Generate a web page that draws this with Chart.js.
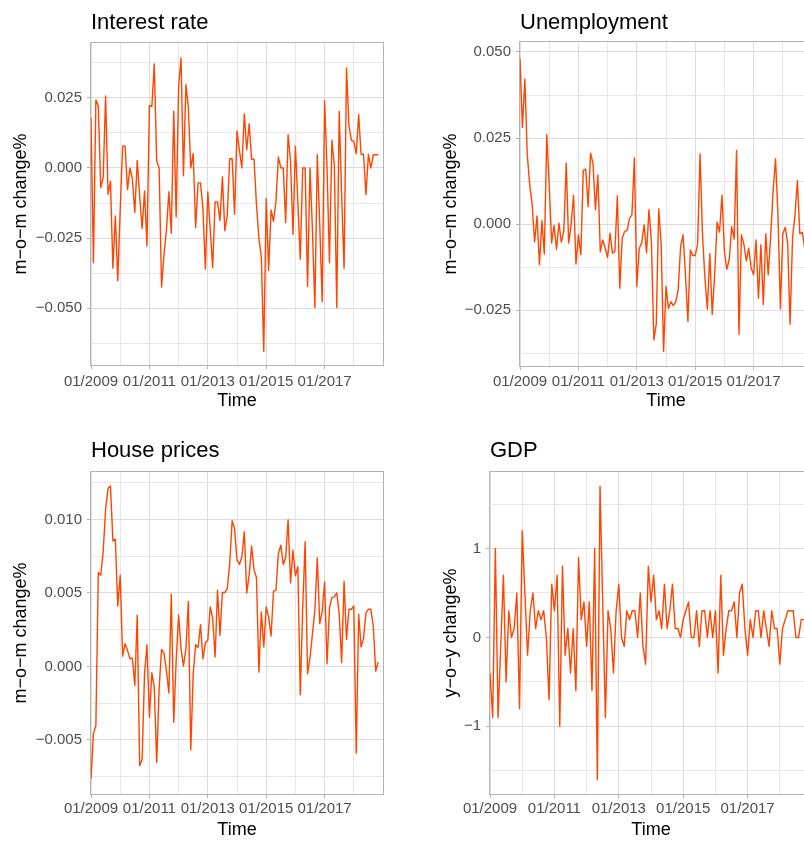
<!DOCTYPE html>
<html>
<head>
<meta charset="utf-8">
<title>Macro indicators 2009–2018</title>
<script src="https://cdn.jsdelivr.net/npm/chart.js@4.4.1/dist/chart.umd.min.js"></script>
<style>
  html, body { margin: 0; padding: 0; background: #ffffff; width: 804px; height: 844px; overflow: hidden; }
  canvas.panel { position: absolute; display: block; }
</style>
</head>
<body>
<canvas id="pInterest" class="panel" width="402" height="422" style="left:0px;top:0px;width:402px;height:422px"></canvas>
<canvas id="pUnemp" class="panel" width="420" height="422" style="left:402px;top:0px;width:420px;height:422px"></canvas>
<canvas id="pHouse" class="panel" width="402" height="422" style="left:0px;top:422px;width:402px;height:422px"></canvas>
<canvas id="pGdp" class="panel" width="420" height="422" style="left:402px;top:422px;width:420px;height:422px"></canvas>
<script>
// Monthly observations, index 0 = 01/2009
const xTickLabels = ['01/2009', '01/2011', '01/2013', '01/2015', '01/2017'];
const monthSpan = 120;

const interestRate = [
  0.018, -0.0338, 0.0243, 0.0222, -0.0070, -0.0035, 0.0257, -0.0094, -0.0047, -0.0358,
  -0.0171, -0.0402, -0.015, 0.0079, 0.0078, -0.0077, 0.0000, -0.0038, -0.0159, 0.0027,
  -0.0100, -0.0216, -0.0082, -0.0278, 0.0223, 0.0219, 0.0371, 0.0024, 0.0000, -0.0425,
  -0.031, -0.022, -0.0085, -0.0233, 0.0203, -0.0174, 0.0288, 0.0392, -0.0028, 0.0298,
  0.0217, 0.0000, 0.0051, -0.0212, -0.0053, -0.0053, -0.0145, -0.0361, -0.0085, -0.022,
  -0.0356, -0.0121, -0.0121, -0.0187, -0.0032, -0.0224, -0.0168, 0.0033, 0.0033, -0.0165,
  0.0132, 0.0063, 0.0000, 0.0193, 0.0065, 0.0158, 0.0031, 0.0031, -0.013, -0.025,
  -0.032, -0.0654, -0.0109, -0.0365, -0.015, -0.019, -0.0121, 0.0039, 0.0001, 0.0000,
  -0.0195, 0.0119, 0.0024, -0.0237, 0.0078, -0.012, -0.0326, 0.0000, 0.0000, -0.0423,
  0.0000, -0.022, -0.0498, 0.0047, -0.02, -0.0477, 0.0241, 0.0000, -0.0338, 0.0099,
  0.001, -0.0498, 0.0202, -0.01, -0.0358, 0.0357, 0.0152, 0.0099, 0.0095, 0.0051,
  0.0191, 0.0049, 0.0049, -0.0095, 0.0049, 0.0000, 0.0047, 0.0047, 0.0047
];

const unemployment = [
  0.048, 0.0281, 0.0421, 0.0201, 0.0114, 0.0056, -0.0052, 0.0024, -0.0118, 0.0010,
  -0.0087, 0.0260, 0.0114, -0.0055, -0.0004, -0.0073, 0.0003, -0.0052, -0.0021, 0.0177,
  -0.0055, -0.0002, 0.0084, -0.0116, -0.0031, -0.0089, 0.0156, 0.0160, 0.0051, 0.0206,
  0.0177, 0.0042, 0.0143, -0.0080, -0.0046, -0.0070, -0.0097, -0.0026, -0.0084, -0.0080,
  0.0082, -0.0186, -0.0041, -0.0021, -0.0019, 0.0017, 0.0027, 0.0192, -0.0181, -0.0070,
  -0.0055, -0.0002, -0.0084, 0.0042, -0.0050, -0.0336, -0.029, 0.0044, -0.0055, -0.0369,
  -0.0181, -0.0245, -0.0225, -0.0237, -0.0225, -0.0191, -0.0065, -0.0031, -0.0147, -0.0283,
  -0.0075, -0.0091, -0.0091, -0.0058, 0.0204, -0.0031, -0.0157, -0.0247, -0.0086, -0.0262,
  -0.0147, 0.0006, -0.0023, 0.0084, -0.0080, -0.0131, -0.0102, -0.0007, -0.0043, 0.0214,
  -0.0320, -0.0031, -0.0058, -0.0107, -0.0070, -0.0128, -0.0147, -0.0046, -0.0215, -0.0060,
  -0.0233, -0.0028, -0.0147, -0.0040, 0.0095, 0.0190, 0.003, -0.0246, -0.0029, -0.0009,
  -0.0055, -0.0291, -0.0041, 0.0027, 0.0126, -0.0028, -0.0024, -0.0070, -0.008
];

const housePrices = [
  -0.00766, -0.00459, -0.00402, 0.00639, 0.00621, 0.0078, 0.0107, 0.01212, 0.01228, 0.00853,
  0.00866, 0.00412, 0.00621, 0.00070, 0.00155, 0.00109, 0.00052, 0.00057, -0.00130, 0.00348,
  -0.00675, -0.00634, -0.0005, 0.00148, -0.00346, -0.00043, -0.00141, -0.00653, -0.0015, 0.00116,
  0.00091, -0.0003, -0.00180, 0.00491, -0.00380, 0.0004, 0.00352, 0.0012, 0.00002, 0.0012,
  0.00443, -0.00568, -0.0005, 0.00148, 0.00127, 0.00284, 0.00052, 0.00161, 0.00177, 0.00405,
  0.0033, 0.00064, 0.00518, 0.00211, 0.00503, 0.00503, 0.0053, 0.0070, 0.00991, 0.00939,
  0.00723, 0.00694, 0.00746, 0.00916, 0.00500, 0.00621, 0.00819, 0.00655, 0.00605, -0.00039,
  0.00371, 0.00132, 0.00405, 0.00337, 0.00207, 0.00512, 0.00518, 0.00769, 0.00825, 0.00694,
  0.00741, 0.00996, 0.00568, 0.00791, 0.00616, 0.00678, -0.00193, 0.004, 0.00848, -0.0005,
  0.00059, 0.0022, 0.00382, 0.00739, 0.00291, 0.00371, 0.00575, 0.00018, 0.00398, 0.00468,
  0.00473, 0.00500, 0.00359, 0.00025, 0.00580, 0.00184, 0.00389, 0.00389, 0.00412, -0.00591,
  0.00355, 0.00132, 0.00189, 0.00364, 0.00389, 0.0039, 0.00275, -0.00032, 0.00030
];

const gdp = [
  -0.4, -0.9, 1.0, -0.9, -0.1, 0.7, -0.5, 0.3, 0.0, 0.1,
  0.5, -0.8, 1.2, 0.5, -0.2, 0.3, 0.5, 0.1, 0.3, 0.2,
  0.3, 0.0, -0.7, 0.6, 0.3, 0.7, -1.0, 0.8, -0.2, 0.1,
  -0.4, 0.1, -0.6, 0.9, 0.2, 0.4, -0.1, 0.4, -0.6, 1.0,
  -1.6, 1.7, 0.4, -0.9, 0.3, 0.1, -0.4, 0.3, 0.6, 0.0,
  -0.1, 0.3, 0.2, 0.3, 0.3, 0.0, 0.5, -0.1, -0.3, 0.8,
  0.4, 0.7, 0.2, 0.3, 0.1, 0.6, 0.1, 0.3, 0.6, 0.1,
  0.1, 0.0, 0.2, 0.3, 0.4, 0.0, 0.0, 0.3, -0.1, 0.3,
  0.3, 0.0, 0.3, 0.0, 0.3, -0.4, 0.7, -0.2, 0.1, 0.3,
  0.3, 0.4, 0.0, 0.5, 0.6, 0.1, -0.2, 0.2, 0.0, 0.3,
  0.3, 0.0, 0.3, 0.1, -0.1, 0.3, 0.1, 0.1, -0.3, 0.1,
  0.2, 0.3, 0.3, 0.3, 0.0, 0.0, 0.2, 0.2, 0.2
];

// Labelled y breaks and visible y range of each panel
const interestTicks = [-0.05, -0.025, 0, 0.025];
const interestRange = [-0.0703, 0.0446];
const unempTicks = [-0.025, 0, 0.025, 0.05];
const unempRange = [-0.0412, 0.0529];
const houseTicks = [-0.005, 0, 0.005, 0.01];
const houseRange = [-0.00868, 0.01323];
const gdpTicks = [-1, 0, 1];
const gdpRange = [-1.761, 1.861];

const FONT = "'Liberation Sans', Arial, Helvetica, sans-serif";
const LINE_COLOR = '#ff4500';
const GRID_MAJOR = '#dcdcdc';
const GRID_MINOR = '#e7e7e7';
const FRAME = '#b3b3b3';
const TICK_TEXT = '#4d4d4d';

Chart.defaults.font.family = FONT;

const MINUS = '\u2212';
const decimals = d => v => (v < -1e-12 ? MINUS : '') + Math.abs(v).toFixed(d);

// Outline of the plotting panel, painted over the series
const panelBorder = {
  id: 'panelBorder',
  afterDatasetsDraw(chart, args, opts) {
    const { ctx, chartArea: a } = chart;
    ctx.save();
    ctx.strokeStyle = opts.color || FRAME;
    ctx.lineWidth = 1;
    ctx.strokeRect(Math.round(a.left) - 0.5, Math.round(a.top) - 0.5,
                   Math.round(a.right - a.left) + 1, Math.round(a.bottom - a.top) + 1);
    ctx.restore();
  }
};

function buildPanel(id, spec) {
  const step = spec.yTicks[1] - spec.yTicks[0];
  const half = step / 2;
  const yGrid = [];
  for (let k = Math.ceil(spec.yRange[0] / half); k <= Math.floor(spec.yRange[1] / half); k++) {
    yGrid.push(k * half);
  }
  const isMajorY = v => Math.abs(v / step - Math.round(v / step)) < 1e-6;

  const xGrid = [];
  for (let m = 0; m < monthSpan; m += 12) xGrid.push(m);
  const isMajorX = v => Math.round(v) % 24 === 0;

  const tickVal = c => (c && c.tick ? c.tick.value : NaN);

  return new Chart(document.getElementById(id), {
    type: 'line',
    data: {
      datasets: [{
        data: spec.values.map((v, i) => ({ x: i, y: v })),
        borderColor: LINE_COLOR,
        borderWidth: 1.4,
        borderJoinStyle: 'round',
        pointRadius: 0,
        tension: 0,
        fill: false
      }]
    },
    options: {
      responsive: false,
      animation: false,
      devicePixelRatio: 1,
      events: [],
      layout: { padding: { left: 0, top: 0, right: spec.padRight, bottom: 0 } },
      plugins: {
        legend: { display: false },
        tooltip: { enabled: false },
        title: {
          display: true,
          text: spec.title,
          align: 'start',
          fullSize: false,
          color: '#000000',
          font: { size: 22, weight: 'normal', lineHeight: 1.2 },
          padding: { top: spec.titlePad[0], bottom: spec.titlePad[1] }
        },
        panelBorder: { color: FRAME }
      },
      scales: {
        x: {
          type: 'linear',
          min: 0,
          max: monthSpan,
          afterBuildTicks: s => { s.ticks = xGrid.map(v => ({ value: v })); },
          afterFit: s => { s.height = spec.xAxisHeight; },
          ticks: {
            autoSkip: false,
            maxRotation: 0,
            minRotation: 0,
            padding: spec.xLabelPad,
            color: TICK_TEXT,
            font: { size: 15 },
            callback: v => (isMajorX(v) ? xTickLabels[Math.round(v) / 24] : '')
          },
          grid: {
            color: c => (isMajorX(tickVal(c)) ? GRID_MAJOR : GRID_MINOR),
            lineWidth: 1,
            drawTicks: true,
            tickLength: 4,
            tickWidth: 1,
            tickColor: c => (isMajorX(tickVal(c)) ? FRAME : 'rgba(0,0,0,0)')
          },
          border: { display: false },
          title: {
            display: true,
            text: 'Time',
            color: '#000000',
            font: { size: 18, lineHeight: 1.2 },
            padding: { top: 0, bottom: spec.xTitlePad }
          }
        },
        y: {
          type: 'linear',
          min: spec.yRange[0],
          max: spec.yRange[1],
          afterBuildTicks: s => { s.ticks = yGrid.map(v => ({ value: v })); },
          afterFit: s => { s.width = spec.yAxisWidth; },
          ticks: {
            autoSkip: false,
            padding: 5,
            color: TICK_TEXT,
            font: { size: 15 },
            callback: v => (isMajorY(v) ? spec.fmt(v) : '')
          },
          grid: {
            color: c => (isMajorY(tickVal(c)) ? GRID_MAJOR : GRID_MINOR),
            lineWidth: 1,
            drawTicks: true,
            tickLength: 4,
            tickWidth: 1,
            tickColor: c => (isMajorY(tickVal(c)) ? FRAME : 'rgba(0,0,0,0)')
          },
          border: { display: false },
          title: {
            display: true,
            text: spec.yTitle,
            color: '#000000',
            font: { size: 18, lineHeight: 1.2 },
            padding: { top: spec.yTitlePad, bottom: 0 }
          }
        }
      }
    },
    plugins: [panelBorder]
  });
}

buildPanel('pInterest', {
  title: 'Interest rate', yTitle: 'm\u2212o\u2212m change%',
  values: interestRate, yTicks: interestTicks, yRange: interestRange, fmt: decimals(3),
  padRight: 19, titlePad: [9.5, 7.1], xAxisHeight: 57, xLabelPad: 3.5, xTitlePad: 10.2,
  yAxisWidth: 91, yTitlePad: 10.2
});

buildPanel('pUnemp', {
  title: 'Unemployment', yTitle: 'm\u2212o\u2212m change%',
  values: unemployment, yTicks: unempTicks, yRange: unempRange, fmt: decimals(3),
  padRight: 10, titlePad: [9.3, 6.3], xAxisHeight: 56, xLabelPad: 3, xTitlePad: 10.2,
  yAxisWidth: 118, yTitlePad: 38
});

buildPanel('pHouse', {
  title: 'House prices', yTitle: 'm\u2212o\u2212m change%',
  values: housePrices, yTicks: houseTicks, yRange: houseRange, fmt: decimals(3),
  padRight: 19, titlePad: [15.5, 8.1], xAxisHeight: 50, xLabelPad: 1.8, xTitlePad: 2.8,
  yAxisWidth: 91, yTitlePad: 10.2
});

buildPanel('pGdp', {
  title: 'GDP', yTitle: 'y\u2212o\u2212y change%',
  values: gdp, yTicks: gdpTicks, yRange: gdpRange, fmt: v => (v < 0 ? MINUS : '') + Math.abs(Math.round(v)),
  padRight: 10, titlePad: [15.5, 8.1], xAxisHeight: 50, xLabelPad: 1.5, xTitlePad: 2.8,
  yAxisWidth: 88, yTitlePad: 37.9
});
</script>
</body>
</html>
